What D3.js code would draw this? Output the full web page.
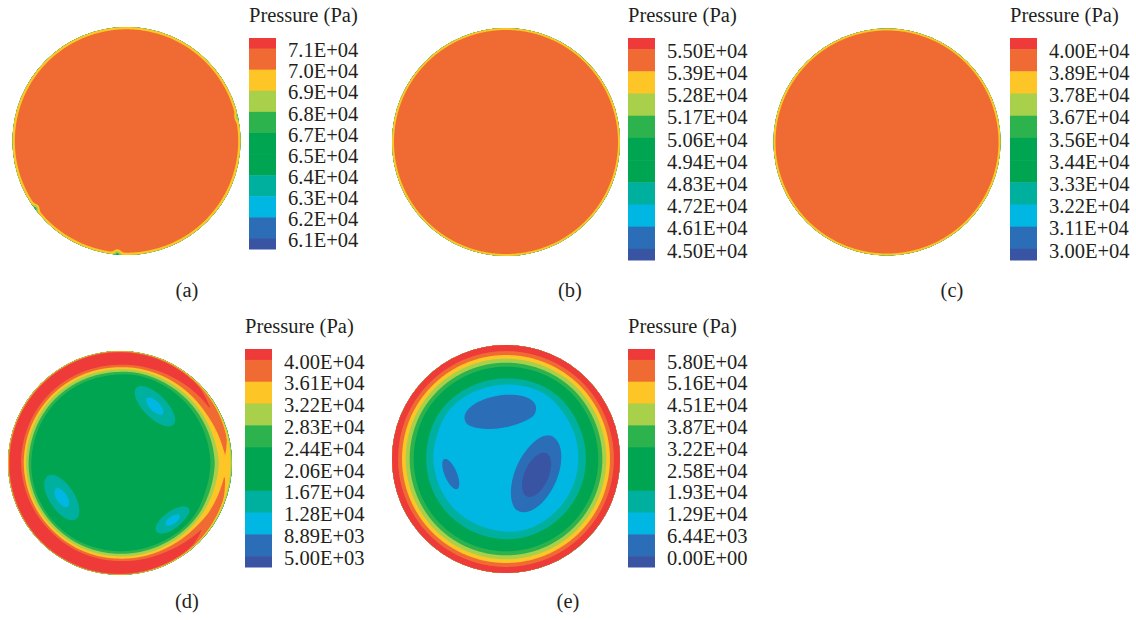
<!DOCTYPE html>
<meta charset="utf-8">
<title>Pressure contours</title>
<body>
<script src="https://cdn.jsdelivr.net/npm/d3@7"></script>
<style>
html, body {
    margin: 0;
    background: #fff;
}
svg {
    display: block;
}
</style>
<script>
var width = 1136,
    height = 620,
    serif = "'Liberation Serif', 'Times New Roman', Times, 'DejaVu Serif', serif";

// colour bands of every legend, highest pressure first
var bandColors = ["#ee3b3a", "#f06b33", "#fdc526", "#a9d04b", "#2cb34e", "#00a551",
                  "#00a551", "#00b09e", "#00b6e3", "#2b6db6", "#3a54a4"];

// tick labels of the five colour bars
var ticksA = ["7.1E+04", "7.0E+04", "6.9E+04", "6.8E+04", "6.7E+04", "6.5E+04", "6.4E+04", "6.3E+04", "6.2E+04", "6.1E+04"];
var ticksB = ["5.50E+04", "5.39E+04", "5.28E+04", "5.17E+04", "5.06E+04", "4.94E+04", "4.83E+04", "4.72E+04", "4.61E+04", "4.50E+04"];
var ticksC = ["4.00E+04", "3.89E+04", "3.78E+04", "3.67E+04", "3.56E+04", "3.44E+04", "3.33E+04", "3.22E+04", "3.11E+04", "3.00E+04"];
var ticksD = ["4.00E+04", "3.61E+04", "3.22E+04", "2.83E+04", "2.44E+04", "2.06E+04", "1.67E+04", "1.28E+04", "8.89E+03", "5.00E+03"];
var ticksE = ["5.80E+04", "5.16E+04", "4.51E+04", "3.87E+04", "3.22E+04", "2.58E+04", "1.93E+04", "1.29E+04", "6.44E+03", "0.00E+00"];

// pressure (Pa) against radius (fraction of the section radius)
var radiusA = [0, 0.965, 1],
    pressureA = [7.05e4, 7.05e4, 6.93e4];
var radiusB = [0, 0.965, 1],
    pressureB = [5.45e4, 5.45e4, 5.33e4];
var radiusC = [0, 0.965, 1],
    pressureC = [3.95e4, 3.95e4, 3.83e4];
var radiusD = [0, 0.76, 0.79, 0.815, 0.84, 0.86, 0.885, 0.94, 0.98, 1],
    pressureD = [2.0e4, 2.06e4, 2.44e4, 2.83e4, 3.22e4, 3.61e4, 4.0e4, 4.5e4, 4.3e4, 3.3e4];
var radiusE = [0, 0.45, 0.63, 0.70, 0.755, 0.81, 0.845, 0.88, 0.912, 0.945, 1],
    pressureE = [1.02e4, 1.1e4, 1.29e4, 1.93e4, 2.58e4, 3.22e4, 3.87e4, 4.51e4, 5.16e4, 5.8e4, 6.2e4];

// how strong the outer ring of (d) is around the section (angle in degrees, 0 = right, 90 = down)
var rimAngleD = [0, 30, 60, 90, 135, 180, 225, 270, 300, 330, 360],
    rimGainD = [0.62, 0.74, 0.95, 1.08, 1.14, 1.02, 1.02, 1.08, 0.95, 0.8, 0.62];

// low pressure pockets: [x, y, rx, ry, angle, depth in Pa], in section radii
var pocketsA = [[-0.08, 0.985, 0.03, 0.03, 0, 2000],
                [-0.80, 0.59, 0.03, 0.03, 0, 2000],
                [0.97, -0.21, 0.02, 0.03, 0, 1500]];
var pocketsD = [[0.31, -0.51, 0.25, 0.11, 45, 9000],
                [-0.52, 0.31, 0.25, 0.12, 57, 9000],
                [0.47, 0.51, 0.19, 0.085, -35, 9000]];
var pocketsE = [[-0.05, -0.43, 0.40, 0.17, -10, 10000],
                [-0.49, 0.13, 0.18, 0.065, 67, 10000],
                [0.27, 0.14, 0.32, 0.16, 114, 16500]];

var panels = [
    {tag: "(a)", ticks: ticksA, radius: radiusA, pressure: pressureA, pockets: pocketsA,
     cx: 126.5, cy: 141, r: 114, barX: 249, barTop: 38, barBottom: 249, tagX: 187, tagY: 297},
    {tag: "(b)", ticks: ticksB, radius: radiusB, pressure: pressureB, pockets: [],
     cx: 506, cy: 142, r: 114, barX: 628, barTop: 38, barBottom: 260, tagX: 570, tagY: 297},
    {tag: "(c)", ticks: ticksC, radius: radiusC, pressure: pressureC, pockets: [],
     cx: 887, cy: 142, r: 113.5, barX: 1010, barTop: 38, barBottom: 260, tagX: 952, tagY: 297},
    {tag: "(d)", ticks: ticksD, radius: radiusD, pressure: pressureD, pockets: pocketsD,
     rimAngle: rimAngleD, rimGain: rimGainD,
     cx: 120, cy: 463, r: 112, barX: 245, barTop: 349, barBottom: 567, tagX: 187, tagY: 608},
    {tag: "(e)", ticks: ticksE, radius: radiusE, pressure: pressureE, pockets: pocketsE,
     cx: 506, cy: 459, r: 114, barX: 628, barTop: 349, barBottom: 567, tagX: 568, tagY: 608}
];

var svg = d3.select("body").append("svg")
    .attr("width", width)
    .attr("height", height)
    .style("font-family", serif);

var defs = svg.append("defs");

panels.forEach(function(p, k) {
    var g = svg.append("g");

    // --- contour map, sampled a little past the rim so the clip hides the grid edge ---
    var pad = 4,
        n = Math.round(2 * p.r) + 1 + 2 * pad,
        step = 2 * p.r / (n - 1 - 2 * pad),
        f = field(p),
        values = new Array(n * n),
        grid = d3.scaleLinear().domain([pad, n - 1 - pad]).range([-1, 1]);

    for (var j = 0; j < n; ++j) {
        for (var i = 0; i < n; ++i) {
            values[j * n + i] = f(grid(i), grid(j));
        }
    }

    var levels = p.ticks.map(Number),
        ascending = levels.slice().reverse(),
        contours = d3.contours().size([n, n]).thresholds(ascending)(values),
        path = d3.geoPath(d3.geoIdentity()
            .scale(step)
            .translate([p.cx - p.r - (pad + 0.5) * step, p.cy - p.r - (pad + 0.5) * step]));

    defs.append("clipPath")
        .attr("id", "clip" + k)
        .append("circle")
        .attr("cx", p.cx)
        .attr("cy", p.cy)
        .attr("r", p.r);

    var map = g.append("g")
        .attr("clip-path", "url(#clip" + k + ")");

    map.append("circle")
        .attr("cx", p.cx)
        .attr("cy", p.cy)
        .attr("r", p.r)
        .attr("fill", bandColors[levels.length]);

    map.selectAll("path")
        .data(contours)
        .enter().append("path")
        .attr("d", path)
        .attr("fill", function(d) { return bandColors[levels.indexOf(d.value)]; });

    // --- colour bar ---
    var half = (p.barBottom - p.barTop) / (2 * levels.length),
        y = d3.scalePoint()
            .domain(p.ticks)
            .range([p.barTop + half, p.barBottom - half]);

    var blocks = d3.range(levels.length + 1).map(function(i) {
        return {
            y0: i === 0 ? p.barTop : y(p.ticks[i - 1]),
            y1: i === levels.length ? p.barBottom : y(p.ticks[i]),
            color: bandColors[i]
        };
    });

    g.append("g").selectAll("rect")
        .data(blocks)
        .enter().append("rect")
        .attr("x", p.barX)
        .attr("y", function(d) { return d.y0; })
        .attr("width", 27)
        .attr("height", function(d) { return d.y1 - d.y0 + 0.5; })
        .attr("fill", function(d) { return d.color; });

    var axis = g.append("g")
        .attr("transform", "translate(" + (p.barX + 27) + ",0)")
        .call(d3.axisRight(y).tickSize(0).tickPadding(12))
        .attr("font-family", serif)
        .attr("font-size", 20.5);

    axis.select(".domain").remove();
    axis.selectAll("text")
        .attr("dy", "0.4em")
        .attr("fill", "#231f20");

    g.append("text")
        .attr("x", p.barX)
        .attr("y", p.barTop - 16)
        .attr("font-size", 20.5)
        .attr("fill", "#231f20")
        .text("Pressure (Pa)");

    g.append("text")
        .attr("x", p.tagX)
        .attr("y", p.tagY)
        .attr("text-anchor", "middle")
        .attr("font-size", 20.5)
        .attr("fill", "#231f20")
        .text(p.tag);
});

function field(p) {
    var profile = d3.scaleLinear().domain(p.radius).range(p.pressure).clamp(true),
        gain = p.rimAngle ? d3.scaleLinear().domain(p.rimAngle).range(p.rimGain) : function() { return 1; },
        base = p.pressure[0];

    return function(x, y) {
        var r = Math.min(1, Math.sqrt(x * x + y * y)),
            a = (Math.atan2(y, x) * 180 / Math.PI + 360) % 360,
            v = base + (profile(r) - base) * gain(a);

        p.pockets.forEach(function(b) {
            var t = b[4] * Math.PI / 180,
                dx = x - b[0],
                dy = y - b[1],
                u = (dx * Math.cos(t) + dy * Math.sin(t)) / b[2],
                w = (-dx * Math.sin(t) + dy * Math.cos(t)) / b[3];
            v -= b[5] * Math.exp(-(u * u + w * w));
        });

        return v;
    };
}
</script>
